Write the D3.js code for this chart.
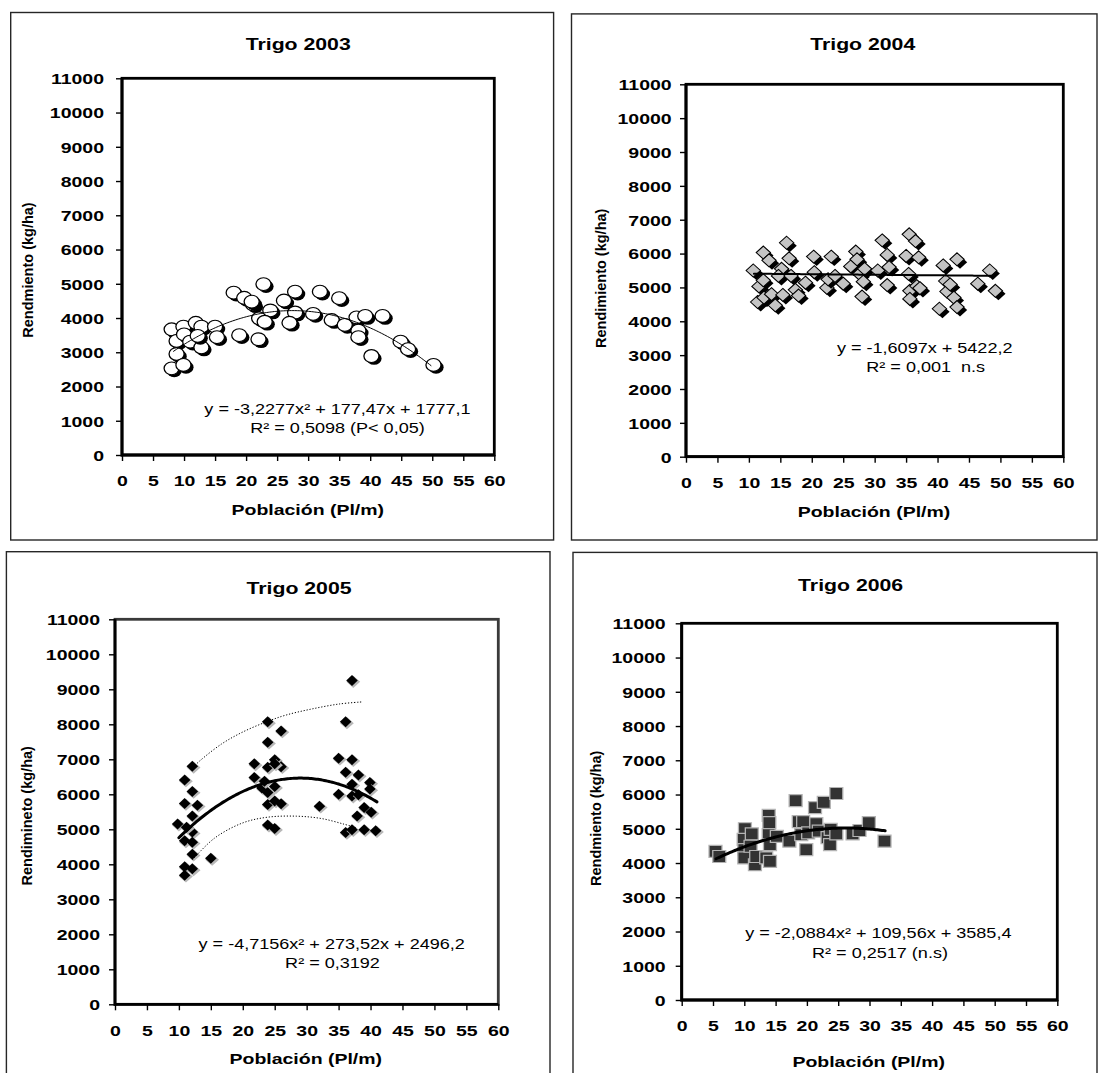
<!DOCTYPE html>
<html>
<head>
<meta charset="utf-8">
<script src="https://cdn.jsdelivr.net/npm/d3@7"></script>
<style>
  body { margin: 0; background: #fff; }
  svg text { font-family: "Liberation Sans", Arial, Helvetica, sans-serif; fill: #000; }
</style>
</head>
<body>
<svg id="chart" width="1104" height="1073"></svg>
<script>
// ---- shared axis ticks ----
const xTicks = d3.range(0, 61, 5);
const yTicks = d3.range(0, 11001, 1000);

// ---- Trigo 2003: population (pl/m) vs yield (kg/ha) ----
const x2003 = [8.0, 8.8, 9.9, 10.0, 8.8, 8.0, 9.9, 11.9, 12.8, 11.0, 12.8, 15.0, 15.3, 18.0, 19.7, 21.1, 18.9, 22.0, 22.8, 22.1, 23.9, 23.0, 26.1, 27.9, 27.9, 27.0, 30.8, 31.9, 35.0, 33.8, 35.9, 37.8, 38.1, 38.1, 39.2, 42.0, 40.2, 44.9, 46.1, 50.2, 20.9, 12.2];
const y2003 = [3670, 3330, 3750, 3520, 2950, 2530, 2630, 3860, 3750, 3310, 3140, 3750, 3440, 4740, 4590, 4400, 3500, 3380, 4990, 3990, 4220, 3890, 4510, 4770, 4160, 3860, 4120, 4770, 4580, 3940, 3800, 4020, 3630, 3440, 4060, 4060, 2890, 3310, 3090, 2630, 4480, 3480];
const coef2003 = [-3.2277, 177.47, 1777.1];
const range2003 = [8.3, 50.0];
const eq2003 = ["y = -3,2277x² + 177,47x + 1777,1", "R² = 0,5098 (P< 0,05)"];

// ---- Trigo 2004 ----
const x2004 = [10.7, 12.3, 11.6, 12.3, 11.4, 12.4, 13.2, 13.6, 14.2, 16.0, 16.4, 15.2, 14.7, 15.4, 16.7, 17.4, 17.9, 19.0, 20.3, 20.4, 22.4, 22.6, 23.1, 23.7, 25.0, 26.2, 27.0, 27.2, 27.6, 28.0, 28.2, 28.4, 30.5, 31.2, 32.0, 32.3, 32.0, 35.0, 35.4, 35.5, 36.5, 35.6, 35.6, 37.0, 36.7, 37.2, 40.9, 41.3, 41.5, 42.0, 40.3, 42.6, 43.1, 43.1, 46.4, 48.3, 49.2];
const y2004 = [5500, 6030, 5030, 5210, 4570, 4700, 5800, 4800, 4470, 6320, 5860, 5550, 5340, 4780, 5340, 4930, 4760, 5140, 5910, 5450, 4990, 5240, 5910, 5340, 5110, 5620, 6060, 5830, 5400, 4730, 5170, 5550, 5500, 6390, 5960, 5600, 5070, 5930, 5400, 6570, 6370, 4900, 4660, 5890, 5040, 4980, 5650, 5190, 4880, 5090, 4370, 4700, 4420, 5830, 5110, 5500, 4900];
const coef2004 = [0, -1.6097, 5422.2];
const range2004 = [10.8, 49.0];
const eq2004 = ["y = -1,6097x + 5422,2", "R² = 0,001  n.s"];

// ---- Trigo 2005 ----
const x2005 = [9.8, 10.9, 10.9, 10.9, 10.9, 10.9, 12.1, 12.1, 12.1, 12.1, 12.1, 12.1, 12.1, 12.9, 11.2, 15.0, 21.8, 21.8, 23.0, 23.9, 23.9, 23.9, 23.9, 23.9, 23.9, 25.0, 25.0, 25.0, 25.0, 26.0, 26.0, 26.0, 32.0, 35.0, 35.0, 36.1, 36.1, 36.1, 37.1, 37.1, 37.1, 37.1, 37.1, 38.1, 38.1, 37.9, 39.0, 39.0, 39.9, 39.9, 40.1, 40.8, 25.0, 23.4];
const y2005 = [5150, 6410, 5740, 4670, 3930, 3690, 6800, 6080, 5380, 4920, 4630, 4290, 3870, 5690, 5060, 4170, 6870, 6480, 6180, 8070, 7490, 6770, 6050, 5710, 5120, 6990, 6220, 5810, 5020, 7810, 6790, 5730, 5660, 7030, 6000, 8070, 6630, 4910, 9250, 6990, 6290, 5950, 4990, 6550, 5990, 5380, 5620, 4990, 6340, 6150, 5490, 4960, 6870, 6370];
const coef2005 = [-4.7156, 273.52, 2496.2];
const range2005 = [10.0, 41.0];
const eq2005 = ["y = -4,7156x² + 273,52x + 2496,2", "R² = 0,3192"];
// dotted envelope curves
const upperX2005 = [12.2, 13.3, 16.7, 20.0, 23.7, 26.7, 30.6, 35.1, 38.7];
const upperY2005 = [6770, 6960, 7440, 7780, 8070, 8260, 8430, 8580, 8640];
const lowerX2005 = [12.1, 15.6, 20.0, 23.9, 28.4, 32.3, 35.7, 37.9];
const lowerY2005 = [4125, 4750, 5183, 5346, 5375, 5308, 5154, 5038];

// ---- Trigo 2006 ----
const x2006 = [5.4, 6.0, 10.1, 9.9, 10.0, 10.0, 11.2, 11.0, 11.7, 11.9, 13.5, 13.9, 14.0, 13.9, 14.1, 14.1, 15.2, 17.2, 18.2, 18.7, 19.4, 19.1, 19.9, 20.2, 21.3, 21.5, 22.7, 21.9, 23.3, 23.7, 23.8, 24.7, 24.7, 27.3, 28.4, 29.9, 32.4];
const y2006 = [4340, 4190, 5000, 4690, 4390, 4150, 4850, 4490, 3950, 4190, 4150, 5390, 5180, 4830, 4540, 4050, 4780, 4640, 5820, 5210, 5210, 4830, 4390, 4880, 5620, 5150, 5770, 4930, 4740, 4540, 4980, 6030, 4850, 4850, 4950, 5180, 4640];
const coef2006 = [-2.0884, 109.56, 3585.4];
const range2006 = [5.5, 32.5];
const eq2006 = ["y = -2,0884x² + 109,56x + 3585,4", "R² = 0,2517 (n.s)"];

const titles = ["Trigo 2003", "Trigo 2004", "Trigo 2005", "Trigo 2006"];
const xTitle = "Población (Pl/m)";
const yTitles = ["Rendmiento (kg/ha)", "Rendimiento (kg/ha)", "Rendimineto (kg/ha)", "Rendmiento (kg/ha)"];

// ---- layout of the four panels ----
const panels = [
  { box: [10.7, 12.5, 553.6, 540], frame: [122, 78.3, 494.3, 455], title: [298.2, 50.4], yGap: 18, xBase: 485.7,
    xT: [307.8, 515], yT: [32.7, 270], eqPos: [[337.5, 414], [337.5, 433]],
    xs: x2003, ys: y2003, coef: coef2003, range: range2003, eq: eq2003, marker: "circle", trendW: 1 },
  { box: [571.5, 13.9, 1097, 540], frame: [686, 84.3, 1063.3, 456.7], title: [862.7, 50.4], yGap: 14.3, xBase: 488.3,
    xT: [874, 516.7], yT: [605.6, 278.3], eqPos: [[924.7, 352.7], [925.7, 371.7]],
    xs: x2004, ys: y2004, coef: coef2004, range: range2004, eq: eq2004, marker: "diamondGray", trendW: 2 },
  { box: [6.4, 551.7, 550, 1090], frame: [115, 619.3, 498.3, 1004.3], title: [299, 593.8], yGap: 15, xBase: 1036,
    xT: [305.8, 1064], yT: [32.3, 815.8], eqPos: [[331.7, 949], [332.5, 967.7]],
    xs: x2005, ys: y2005, coef: coef2005, range: range2005, eq: eq2005, marker: "diamondBlack", trendW: 3, bands: true },
  { box: [573, 552.4, 1097, 1090], frame: [681.7, 623.3, 1057.3, 1000], title: [850.6, 590.5], yGap: 16, xBase: 1030.7,
    xT: [868.7, 1067], yT: [601.3, 818.3], eqPos: [[878.3, 938.3], [880, 958.3]],
    xs: x2006, ys: y2006, coef: coef2006, range: range2006, eq: eq2006, marker: "square", trendW: 3 }
];

const svg = d3.select("#chart");

// rhombus symbol (equal half-diagonals, stretched later via transform)
const rhombus = {
  draw(ctx, size) {
    const r = Math.sqrt(size) / 2;
    ctx.moveTo(0, -r); ctx.lineTo(r, 0); ctx.lineTo(0, r); ctx.lineTo(-r, 0); ctx.closePath();
  }
};

function hText(g, txt, x, y, size, weight, anchor, sx) {
  return g.append("text")
    .attr("transform", `translate(${x},${y}) scale(${sx},1)`)
    .attr("text-anchor", anchor)
    .style("font-size", size + "px")
    .style("font-weight", weight)
    .style("white-space", "pre")
    .text(txt);
}

panels.forEach((p, i) => {
  const g = svg.append("g");
  const [L, T, R, B] = p.frame;
  const x = d3.scaleLinear().domain([0, 60]).range([L, R]);
  const y = d3.scaleLinear().domain([0, 11000]).range([B, T]);

  // outer chart border
  g.append("rect")
    .attr("x", p.box[0]).attr("y", p.box[1])
    .attr("width", p.box[2] - p.box[0]).attr("height", p.box[3] - p.box[1])
    .attr("fill", "none").attr("stroke", "#262626").attr("stroke-width", 1.4);

  // markers
  const pts = p.xs.map((v, k) => [v, p.ys[k]]);
  const mg = g.append("g");
  const pos = d => `translate(${x(d[0])},${y(d[1])})`;
  if (p.marker === "circle") {
    const c = d3.symbol(d3.symbolCircle, Math.PI * 6.4 * 6.4)();
    const grp = mg.selectAll("g").data(pts).join("g").attr("transform", pos);
    grp.append("path").attr("d", c).attr("transform", "translate(2.6,2.4) scale(1.18,1)").attr("fill", "#000");
    grp.append("path").attr("d", c).attr("transform", "scale(1.18,1)")
      .attr("fill", "#fff").attr("stroke", "#000").attr("stroke-width", 1.1);
  } else if (p.marker === "diamondGray") {
    const d = d3.symbol(rhombus, 13 * 13)();
    const grp = mg.selectAll("g").data(pts).join("g").attr("transform", pos);
    grp.append("path").attr("d", d).attr("transform", "translate(3,3) scale(1.1,1)").attr("fill", "#000");
    grp.append("path").attr("d", d).attr("transform", "scale(1.1,1)")
      .attr("fill", "#c4c4c4").attr("stroke", "#000").attr("stroke-width", 1);
  } else if (p.marker === "diamondBlack") {
    const d = d3.symbol(rhombus, 11 * 11)();
    const grp = mg.selectAll("g").data(pts).join("g").attr("transform", pos);
    grp.append("path").attr("d", d).attr("transform", "translate(1.3,1.3) scale(1.25,1.1)").attr("fill", "#b8b8b8");
    grp.append("path").attr("d", d).attr("transform", "scale(1.05,1)").attr("fill", "#000");
  } else {
    const s = d3.symbol(d3.symbolSquare, 12 * 12)();
    mg.selectAll("path").data(pts).join("path")
      .attr("transform", d => pos(d) + " scale(1.08,1)")
      .attr("d", s).attr("fill", "#333").attr("stroke", "#b3b3b3").attr("stroke-width", 1.2);
  }

  // dotted envelope curves
  if (p.bands) {
    const band = d3.line().x(d => x(d[0])).y(d => y(d[1])).curve(d3.curveCatmullRom);
    [[upperX2005, upperY2005], [lowerX2005, lowerY2005]].forEach(([bx, by]) => {
      g.append("path").datum(bx.map((v, k) => [v, by[k]]))
        .attr("d", band).attr("fill", "none").attr("stroke", "#000")
        .attr("stroke-width", 1).attr("stroke-dasharray", "1.2,1.8");
    });
  }

  // fitted trend line from the stated equation
  const [a, b, c] = p.coef;
  const tr = d3.range(p.range[0], p.range[1] + 1e-6, 0.25).map(v => [v, a * v * v + b * v + c]);
  g.append("path").datum(tr)
    .attr("d", d3.line().x(d => x(d[0])).y(d => y(d[1])))
    .attr("fill", "none").attr("stroke", "#000").attr("stroke-width", p.trendW)
    .attr("stroke-linejoin", "round").attr("stroke-linecap", "round");

  // plot frame
  g.append("rect").attr("x", L).attr("y", T).attr("width", R - L).attr("height", B - T)
    .attr("fill", "none").attr("stroke", i === 2 ? "#3a3a3a" : "#000").attr("stroke-width", 2.8);
  g.append("path").attr("d", `M${L},${T}V${B}H${R}`).attr("fill", "none").attr("stroke", "#000").attr("stroke-width", 2.8);

  // y axis
  const ya = g.append("g").attr("transform", `translate(${L},0)`)
    .call(d3.axisLeft(y).tickValues(yTicks).tickSize(6).tickFormat(d3.format("d")));
  ya.attr("font-size", null).attr("font-family", null);
  ya.select(".domain").remove();
  ya.selectAll("line").attr("stroke", "#000").attr("stroke-width", 1.4);
  ya.selectAll("text").attr("x", null).attr("dy", null)
    .attr("transform", `translate(${-p.yGap},5.4) scale(1.3,1)`)
    .style("font-size", "15px").style("font-weight", "bold");

  // x axis
  const xa = g.append("g").attr("transform", `translate(0,${B})`)
    .call(d3.axisBottom(x).tickValues(xTicks).tickSize(6));
  xa.attr("font-size", null).attr("font-family", null);
  xa.select(".domain").remove();
  xa.selectAll("line").attr("stroke", "#000").attr("stroke-width", 1.4);
  xa.selectAll("text").attr("y", null).attr("dy", null)
    .attr("transform", `translate(0,${p.xBase - B}) scale(1.3,1)`)
    .style("font-size", "15px").style("font-weight", "bold");

  // titles
  hText(g, titles[i], p.title[0], p.title[1], 17, "bold", "middle", 1.25);
  hText(g, xTitle, p.xT[0], p.xT[1], 15, "bold", "middle", 1.3);
  g.append("text")
    .attr("transform", `translate(${p.yT[0]},${p.yT[1]}) rotate(-90)`)
    .attr("text-anchor", "middle")
    .style("font-size", "14.5px").style("font-weight", "bold")
    .text(yTitles[i]);

  // equation and R²
  p.eq.forEach((t, k) => hText(g, t, p.eqPos[k][0], p.eqPos[k][1], 14, "normal", "middle", 1.29));
});
</script>
</body>
</html>
